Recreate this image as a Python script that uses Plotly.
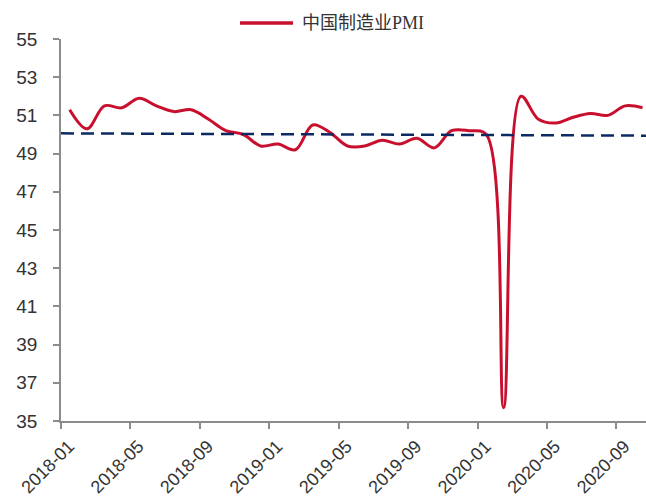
import plotly.graph_objects as go

# China manufacturing PMI, monthly, 2018-01 .. 2020-10
months = [
    "2018-01", "2018-02", "2018-03", "2018-04", "2018-05", "2018-06",
    "2018-07", "2018-08", "2018-09", "2018-10", "2018-11", "2018-12",
    "2019-01", "2019-02", "2019-03", "2019-04", "2019-05", "2019-06",
    "2019-07", "2019-08", "2019-09", "2019-10", "2019-11", "2019-12",
    "2020-01", "2020-02", "2020-03", "2020-04", "2020-05", "2020-06",
    "2020-07", "2020-08", "2020-09", "2020-10",
]
pmi = [
    51.3, 50.3, 51.5, 51.4, 51.9, 51.5, 51.2, 51.3, 50.8, 50.2, 50.0, 49.4,
    49.5, 49.2, 50.5, 50.1, 49.4, 49.4, 49.7, 49.5, 49.8, 49.3, 50.2, 50.2,
    50.0, 35.7, 52.0, 50.8, 50.6, 50.9, 51.1, 51.0, 51.5, 51.4,
]
# reference line near the 50 boom/bust threshold (start, end values)
ref_line = [50.06, 49.94]
series_name = "中国制造业PMI"
line_color = "#C8102E"

tick_labels = months[::4]
idx = list(range(len(months)))
tick_pos = [i - 0.5 for i in idx[::4]]

W, H = 646, 496
ML, MR, MT, MB = 61, 0, 39, 75
plot_w, plot_h = W - ML - MR, H - MT - MB

fig = go.Figure()
fig.add_trace(go.Scatter(
    x=idx, y=pmi, mode="lines", name=series_name,
    line=dict(color=line_color, width=3, shape="spline", smoothing=1.0),
))
fig.add_trace(go.Scatter(
    x=[-0.5, 33.2], y=ref_line, mode="lines", showlegend=False,
    line=dict(color="#0B2A63", width=2.5, dash="13px,7px"),
    hoverinfo="skip",
))

# legend key drawn above the plot: a long line sample plus the series name
leg_y = 1 + (MT - 23) / plot_h
fig.add_shape(
    type="line", xref="paper", yref="paper",
    x0=(240 - ML) / plot_w, x1=(293 - ML) / plot_w, y0=leg_y, y1=leg_y,
    line=dict(color=line_color, width=3.5),
)
fig.add_annotation(
    xref="paper", yref="paper", x=(300 - ML) / plot_w, y=leg_y,
    xanchor="left", yanchor="middle", showarrow=False,
    text=series_name,
    font=dict(family="Liberation Serif, Noto Sans CJK SC", size=18, color="#333333"),
)

fig.update_layout(
    width=W, height=H,
    margin=dict(l=ML, r=MR, t=MT, b=MB),
    paper_bgcolor="white", plot_bgcolor="white",
    showlegend=False,
    xaxis=dict(
        range=[-0.5, 33.2],
        tickmode="array", tickvals=tick_pos, ticktext=tick_labels,
        tickangle=-45, ticklabelshift=8,
        ticks="outside", ticklen=6, tickcolor="#8C8C8C", tickwidth=1.5,
        showline=True, linecolor="#8C8C8C", linewidth=1.5,
        showgrid=False, zeroline=False,
        tickfont=dict(family="Liberation Sans, Arial", size=18, color="#333333"),
    ),
    yaxis=dict(
        range=[35, 55], tickmode="linear", tick0=35, dtick=2,
        ticks="outside", ticklen=6, tickcolor="#8C8C8C", tickwidth=1.5,
        ticklabelstandoff=12,
        showline=True, linecolor="#8C8C8C", linewidth=1.5,
        showgrid=False, zeroline=False,
        tickfont=dict(family="Liberation Sans, Arial", size=19, color="#333333"),
    ),
)

fig.write_html("out.html")
